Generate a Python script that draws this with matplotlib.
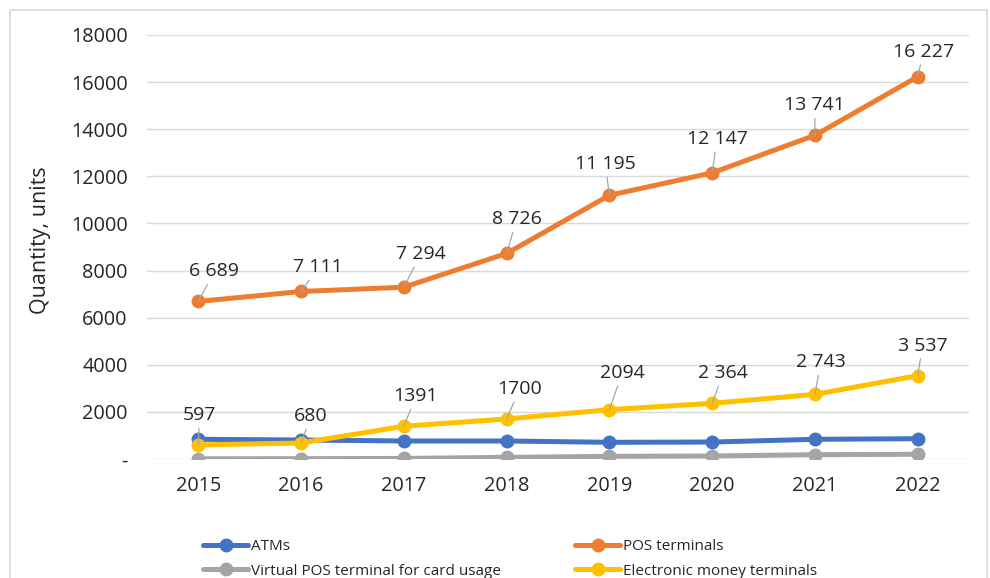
import numpy as np
import matplotlib.pyplot as plt
from matplotlib.patches import Rectangle
from matplotlib.ticker import FuncFormatter

plt.rcParams['font.family'] = ['Open Sans', 'DejaVu Sans']

years = ['2015', '2016', '2017', '2018', '2019', '2020', '2021', '2022']

atms = [836, 807, 764, 764, 709, 720, 836, 862]
virtual_pos = [10, 15, 25, 70, 113, 127, 183, 200]
pos_terminals = [6689, 7111, 7294, 8726, 11195, 12147, 13741, 16227]
emoney_terminals = [597, 680, 1391, 1700, 2094, 2364, 2743, 3537]

pos_labels = ['6 689', '7 111', '7 294', '8 726', '11 195', '12 147', '13 741', '16 227']
emoney_labels = ['597', '680', '1391', '1700', '2094', '2 364', '2 743', '3 537']

# label offsets in pixels (dx, dy up)
pos_offsets = [(16, 30), (17, 24), (17, 33), (10, 34), (-4, 31), (5, 34), (0, 30), (6, 25)]
emoney_offsets = [(1, 30), (10, 27), (12, 30), (13, 30), (13, 37), (11, 30), (6, 32), (5, 30)]

colors = {'atm': '#4472C4', 'pos': '#ED7D31', 'virt': '#A5A5A5', 'emoney': '#FFC000'}
text_color = '#262626'

fig = plt.figure(figsize=(9.9, 5.78), dpi=100)
ax = fig.add_axes([147 / 990, 1 - 459 / 578, (969 - 147) / 990, (459 - 35) / 578])

x = np.arange(len(years))
style = dict(lw=3.6, marker='o', markersize=9, solid_capstyle='round')
ax.plot(x, atms, color=colors['atm'], label='ATMs', **style)
ax.plot(x, virtual_pos, color=colors['virt'], label='Virtual POS terminal for card usage', **style)
ax.plot(x, pos_terminals, color=colors['pos'], label='POS terminals', **style)
ax.plot(x, emoney_terminals, color=colors['emoney'], label='Electronic money terminals', **style)

for xs, ys, labs, offs in [(x, pos_terminals, pos_labels, pos_offsets),
                           (x, emoney_terminals, emoney_labels, emoney_offsets)]:
    for xi, yi, lab, (dx, dy) in zip(xs, ys, labs, offs):
        ax.annotate(lab, (xi, yi), xytext=(dx, dy), textcoords='offset pixels',
                    ha='center', va='center', fontsize=14, color=text_color,
                    arrowprops=dict(arrowstyle='-', color='#A6A6A6', lw=0.9,
                                    shrinkA=1, shrinkB=0))

ax.set_xlim(-0.5, len(years) - 0.5)
ax.set_ylim(0, 18000)
ax.set_xticks(x)
ax.set_xticklabels(years)
ax.set_yticks(np.arange(0, 18001, 2000))
ax.yaxis.set_major_formatter(FuncFormatter(lambda v, p: '-' if v == 0 else f'{int(v)}'))
ax.tick_params(axis='both', length=0, labelsize=14.3, labelcolor=text_color)
ax.tick_params(axis='y', pad=14)
ax.tick_params(axis='x', pad=12)
ax.grid(axis='y', color='#D9D9D9', lw=1)
ax.set_axisbelow(True)
for s in ax.spines.values():
    s.set_visible(False)

fig.text(41 / 990, 1 - 240 / 578, 'Quantity, units', rotation=90, ha='center', va='center',
         fontsize=15.5, color=text_color)

leg = fig.legend(loc='upper left', bbox_to_anchor=(203 / 990, 1 - 539.5 / 578), ncol=2,
                 frameon=False, fontsize=11, handlelength=2.95, handletextpad=0.2,
                 columnspacing=4.85, labelspacing=0.61, borderpad=0, borderaxespad=0)
for t in leg.get_texts():
    t.set_color(text_color)

# outer chart frame
fig.patches.append(Rectangle((10 / 990, -0.1), 977 / 990, 1.1 - 10 / 578, transform=fig.transFigure,
                             fill=False, edgecolor='#D9D9D9', lw=1.2))

fig.savefig('out.png', dpi=100)
